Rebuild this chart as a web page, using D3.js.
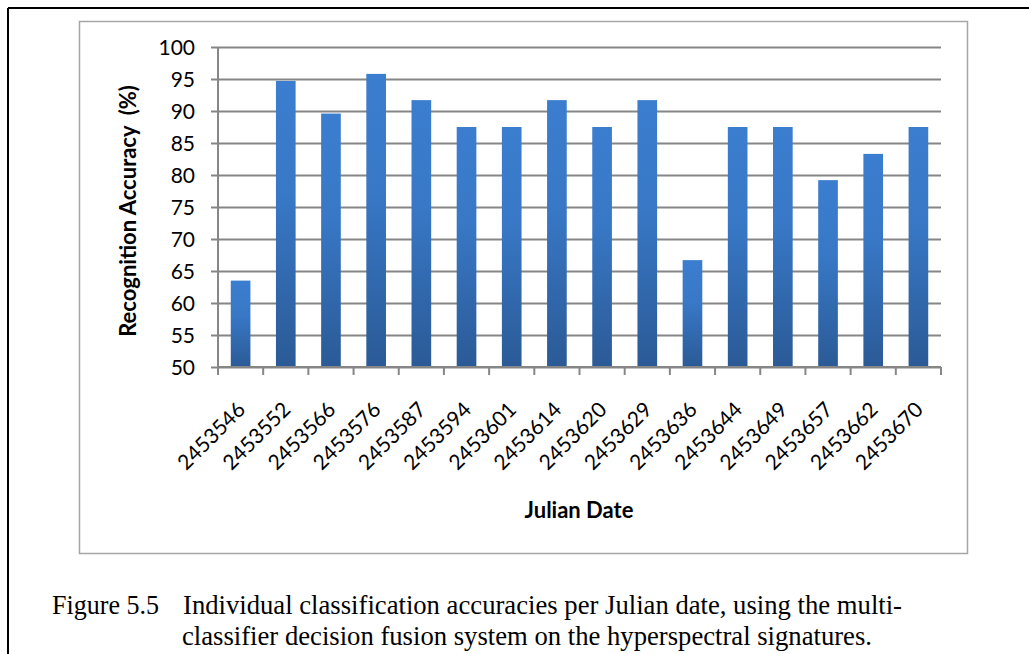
<!DOCTYPE html>
<html>
<head>
<meta charset="utf-8">
<script src="https://cdn.jsdelivr.net/npm/d3@7"></script>
<style>
  html, body { margin: 0; padding: 0; background: #fff; }
  svg { display: block; }
</style>
</head>
<body>
<svg id="chart" width="1029" height="654"></svg>
<script>
// Julian dates and per-date recognition accuracy (%)
const julianDates = ["2453546", "2453552", "2453566", "2453576", "2453587", "2453594",
  "2453601", "2453614", "2453620", "2453629", "2453636", "2453644", "2453649",
  "2453657", "2453662", "2453670"];
const accuracy = [63.5, 94.7, 89.6, 95.8, 91.7, 87.5, 87.5, 91.7, 87.5, 91.7,
  66.7, 87.5, 87.5, 79.2, 83.3, 87.5];
const yTicks = [50, 55, 60, 65, 70, 75, 80, 85, 90, 95, 100];

const svg = d3.select("#chart");
const sansFont = "Lato, 'Open Sans', sans-serif";
const gridColor = "#868686";

// Page frame (left and top rules)
svg.append("line").attr("x1", 8).attr("y1", 8).attr("x2", 1029).attr("y2", 8)
  .attr("stroke", "#000").attr("stroke-width", 2);
svg.append("line").attr("x1", 8).attr("y1", 8).attr("x2", 8).attr("y2", 654)
  .attr("stroke", "#000").attr("stroke-width", 2);

// Chart border
svg.append("rect").attr("x", 79.5).attr("y", 21.5).attr("width", 888).attr("height", 532)
  .attr("fill", "#fff").attr("stroke", "#a6a6a6").attr("stroke-width", 1.5);

const plot = { left: 218, right: 941, top: 47, bottom: 367 };

const x = d3.scaleBand().domain(julianDates)
  .range([plot.left, plot.right]).paddingInner(0.565).paddingOuter(0.2825);
const xTicksScale = d3.scaleBand().domain(julianDates).range([plot.left, plot.right]);
const y = d3.scaleLinear().domain([50, 100]).range([plot.bottom, plot.top]);

// Bar gradient: lighter top, darker base
const defs = svg.append("defs");
const grad = defs.append("linearGradient").attr("id", "barGrad")
  .attr("x1", 0).attr("y1", 0).attr("x2", 0).attr("y2", 1);
grad.append("stop").attr("offset", "0%").attr("stop-color", "#3b7dcf");
grad.append("stop").attr("offset", "40%").attr("stop-color", "#3878c6");
grad.append("stop").attr("offset", "100%").attr("stop-color", "#2b5a96");

// Horizontal gridlines with left tick marks
const yAxis = d3.axisLeft(y).tickValues(yTicks).tickSize(-(plot.right - plot.left)).tickSizeOuter(0)
  .tickPadding(0).tickFormat("");
const gy = svg.append("g").attr("transform", `translate(${plot.left},0)`).call(yAxis);
gy.select(".domain").remove();
gy.selectAll(".tick line").attr("x1", -7).attr("stroke", gridColor).attr("stroke-width", 2);

// Y tick labels
svg.append("g").selectAll("text").data(yTicks).join("text")
  .attr("x", 195).attr("y", d => y(d)).attr("dy", "0.36em")
  .attr("text-anchor", "end").attr("font-family", sansFont).attr("font-size", 21)
  .attr("fill", "#000").text(d => d);

// Bars
svg.append("g").selectAll("rect").data(julianDates).join("rect")
  .attr("x", d => x(d)).attr("width", x.bandwidth())
  .attr("y", (d, i) => y(accuracy[i]))
  .attr("height", (d, i) => y(50) - y(accuracy[i]))
  .attr("fill", "url(#barGrad)");

// Y axis line
svg.append("line").attr("x1", plot.left).attr("x2", plot.left)
  .attr("y1", plot.top).attr("y2", plot.bottom + 7)
  .attr("stroke", gridColor).attr("stroke-width", 2);

// X axis line with category boundary ticks
const xAxis = d3.axisBottom(xTicksScale).tickSize(0).tickFormat("");
const gx = svg.append("g").attr("transform", `translate(0,${plot.bottom})`).call(xAxis);
gx.select(".domain").attr("stroke", gridColor).attr("stroke-width", 2)
  .attr("d", `M${plot.left},0H${plot.right}`);
gx.selectAll(".tick").remove();
const boundaries = julianDates.map(d => xTicksScale(d)).concat([plot.right]);
gx.selectAll(".bnd").data(boundaries).join("line").attr("class", "bnd")
  .attr("x1", d => d).attr("x2", d => d).attr("y1", 0).attr("y2", 8)
  .attr("stroke", gridColor).attr("stroke-width", 2);

// Rotated category labels
svg.append("g").selectAll("text").data(julianDates).join("text")
  .attr("transform", d => `translate(${xTicksScale(d) + xTicksScale.bandwidth() / 2 + 6},${plot.bottom + 44}) rotate(-45)`)
  .attr("text-anchor", "end").attr("font-family", sansFont).attr("font-size", 21)
  .attr("fill", "#000").text(d => d);

// Axis titles
svg.append("text")
  .attr("transform", `translate(136,${(plot.top + plot.bottom) / 2 + 4}) rotate(-90)`)
  .attr("text-anchor", "middle").attr("font-family", sansFont).attr("font-weight", "bold")
  .attr("font-size", 22).attr("fill", "#000").attr("xml:space", "preserve")
  .text("Recognition Accuracy  (%)");
svg.append("text").attr("x", 579).attr("y", 518)
  .attr("text-anchor", "middle").attr("font-family", sansFont).attr("font-weight", "bold")
  .attr("font-size", 22).attr("fill", "#000").text("Julian Date");

// Figure caption
const serif = "'Liberation Serif', 'Times New Roman', serif";
svg.append("text").attr("x", 52).attr("y", 614).attr("font-family", serif)
  .attr("font-size", 26.5).attr("textLength", 107).attr("lengthAdjust", "spacingAndGlyphs")
  .text("Figure 5.5");
svg.append("text").attr("x", 183).attr("y", 614).attr("font-family", serif)
  .attr("font-size", 26.5).attr("textLength", 719).attr("lengthAdjust", "spacingAndGlyphs")
  .text("Individual classification accuracies per Julian date, using the multi-");
svg.append("text").attr("x", 182).attr("y", 645).attr("font-family", serif)
  .attr("font-size", 26.5).attr("textLength", 690).attr("lengthAdjust", "spacingAndGlyphs")
  .text("classifier decision fusion system on the hyperspectral signatures.");
</script>
</body>
</html>
